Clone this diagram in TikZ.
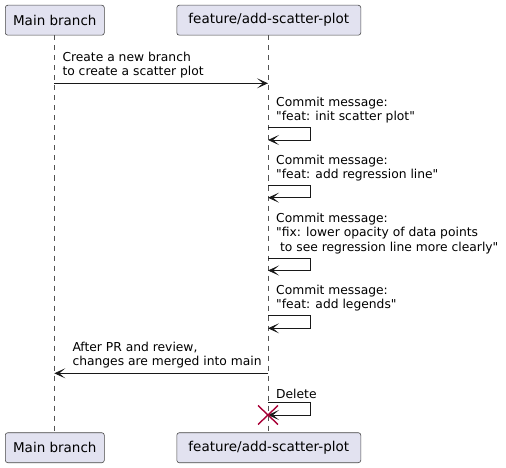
\documentclass[tikz,border=0pt]{standalone}
\usepackage{fontspec}
\newfontfamily\umlfont{DejaVu Sans}
\usetikzlibrary{arrows.meta}
\definecolor{partfill}{HTML}{E2E2F0}
\definecolor{partline}{HTML}{181818}
\definecolor{endred}{HTML}{A80036}
\tikzset{
	participant/.style={draw=partline!80, fill=partfill, rounded corners=2.5pt, minimum height=30pt, inner sep=0pt, line width=0.6pt, font=\umlfont\fontsize{13.5}{16}\selectfont},
	lifeline/.style={draw=partline!75, dash pattern=on 5pt off 5pt, line width=0.5pt},
	msg/.style={draw=partline, line width=0.8pt, -{Stealth[length=11pt, width=10pt, inset=6pt]}},
	msgtext/.style={inner sep=0pt, anchor=south west, align=left, font=\umlfont\fontsize{12.3}{14.5}\selectfont}
}
\begin{document}
\begin{tikzpicture}[x=1pt,y=-1pt]
\useasboundingbox (0,0) rectangle (506,468);
% participants
\node[participant, minimum width=99pt] (mainTop) at (54.8,20.2) {Main branch};
\node[participant, minimum width=184pt] (featTop) at (268.8,20.2) {feature/add-scatter-plot};
\node[participant, minimum width=99pt] (mainBot) at (54.8,447.7) {Main branch};
\node[participant, minimum width=184pt] (featBot) at (268.8,447.7) {feature/add-scatter-plot};
\draw[lifeline] ([xshift=-0.5pt]mainTop.south) -- ([xshift=-0.5pt]mainBot.north);
\draw[lifeline] ([xshift=-0.8pt]featTop.south) -- ([xshift=-0.8pt]featBot.north);
% new branch
\coordinate (m1) at (54.3,83.3);
\coordinate (f1) at (268,83.3);
\draw[msg] (m1) -- (f1);
\node[msgtext] (t1) at (62.3,78.5) {Create a new branch\\to create a scatter plot};
% commits
\foreach \n/\ya/\yb in {1/127.7/140, 2/185.7/197.7, 3/258/270.5, 4/315.7/328.3, 5/402.7/415}
{
	\coordinate (s\n) at (268,\ya);
	\coordinate (e\n) at (268,\yb);
	\draw[msg] (s\n) -- ++(42,0) |- (e\n);
}
\node[msgtext] (c1) at (276,123.5) {Commit message:\\"feat: init scatter plot"};
\node[msgtext] (c2) at (276,181.5) {Commit message:\\"feat: add regression line"};
\node[msgtext] (c3) at (276,253.8) {Commit message:\\"fix: lower opacity of data points\\~to see regression line more clearly"};
\node[msgtext] (c4) at (276,311.5) {Commit message:\\"feat: add legends"};
% merge back
\coordinate (f2) at (268,373.3);
\coordinate (m2) at (54.3,373.3);
\draw[msg] (f2) -- (m2);
\node[msgtext] (t2) at (72.3,368.5) {After PR and review,\\changes are merged into main};
% delete
\node[msgtext] (d1) at (276,398.5) {Delete};
\draw[endred, line width=1.4pt] ([shift={(-10,-9.5)}]e5) -- ([shift={(10,9.5)}]e5)
	([shift={(-10,9.5)}]e5) -- ([shift={(10,-9.5)}]e5);
\end{tikzpicture}
\end{document}
